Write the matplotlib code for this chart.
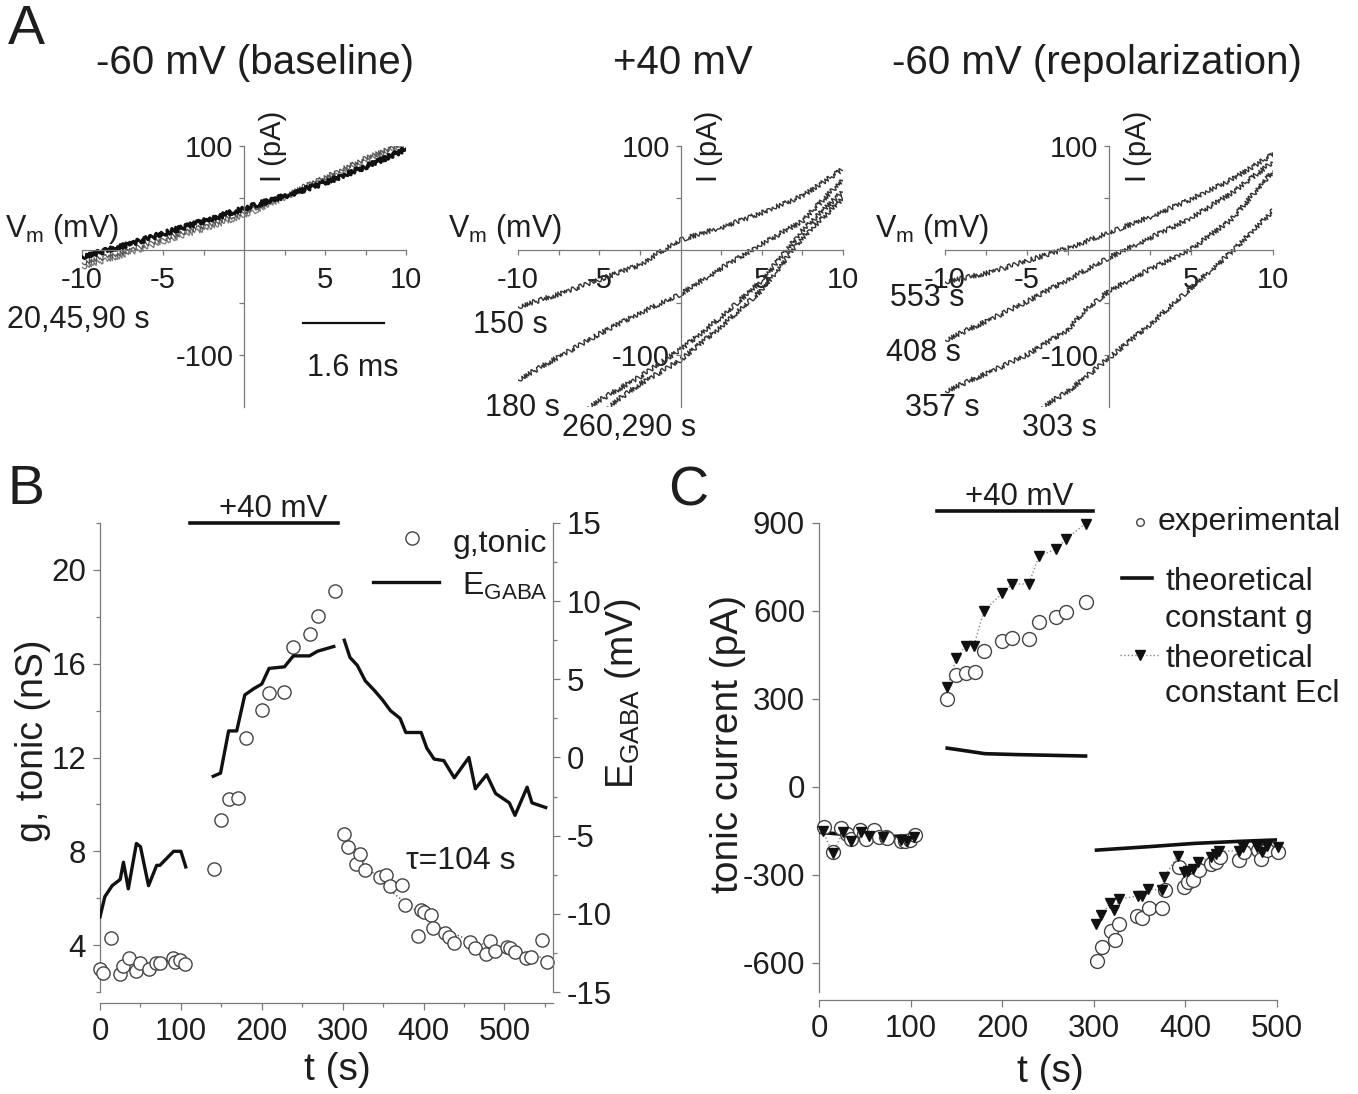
import matplotlib
matplotlib.use("Agg")
import matplotlib.pyplot as plt
from matplotlib.lines import Line2D
from matplotlib.ticker import FixedLocator, MultipleLocator

plt.rcParams['font.family'] = ['Liberation Sans', 'DejaVu Sans']
plt.rcParams['mathtext.fontset'] = 'custom'
plt.rcParams['mathtext.rm'] = 'Liberation Sans'
plt.rcParams['axes.unicode_minus'] = False

# ---- panel A: I-V ramps (mV, pA) ----
v_base = [-10, -7.5, -5, -2.5, 0, 2.5, 5, 7.5, 10]
i_20s = [-6, 4, 16, 28, 40, 52, 65, 80, 97]
i_45s = [-16, -5, 8, 20, 33, 50, 68, 86, 102]
i_90s = [-12, -2, 11, 23, 36, 53, 70, 88, 104]

v_150 = [-10, -7.5, -5, -2.5, -1.3, 0, 2.5, 5, 7.5, 10]
i_150 = [-54, -42, -28, -14, -2, 10, 22, 36, 52, 78]
v_180 = [-10, -7.5, -5, -2.5, 0, 2.5, 5, 7.5, 10]
i_180 = [-124, -102, -80, -60, -42, -17, 6, 28, 68]
v_260 = [-5.7, -2.5, 0, 2.5, 5, 7.5, 10]
i_260 = [-150, -121, -95, -64, -29, 19, 57]
v_290 = [-4.5, -2.5, 0, 2.5, 5, 7.5, 10]
i_290 = [-150, -128, -105, -73, -38, 12, 50]

v_553 = [-10, -7.5, -5, -2.5, 0, 2.5, 5, 7.5, 10]
i_553 = [-30, -22, -10, 2, 17, 32, 49, 68, 92]
v_408 = [-10, -7.5, -5, -2.5, 0, 2.5, 5, 7.5, 10]
i_408 = [-86, -68, -49, -28, -7, 12, 31, 55, 85]
v_357 = [-10, -7.5, -5, -2.5, -1.5, 0, 2.5, 5, 7.5, 10]
i_357 = [-135, -118, -100, -76, -58, -39, -18, 1, 30, 76]
v_303 = [-4.1, -2.5, 0, 2.5, 5, 7.5, 10]
i_303 = [-150, -135, -103, -71, -36, -1, 38]

# ---- panel B ----
t_g = [0, 4, 14, 25, 29, 36, 45, 50, 60, 69, 74, 90, 93, 99, 105,
       141, 149, 160, 170, 180, 200, 209, 228, 239, 259, 270, 290,
       302, 307, 317, 321, 328, 346, 353, 358, 373, 377, 393, 397, 401,
       409, 412, 427, 431, 438, 457, 463, 477, 482, 488, 503, 507, 513,
       527, 533, 547, 553]
g_tonic = [3.0, 2.82, 4.31, 2.75, 3.12, 3.43, 2.91, 3.22, 3.0, 3.22, 3.22,
           3.43, 3.29, 3.36, 3.18,
           7.26, 9.35, 10.23, 10.27, 12.82, 14.02, 14.73, 14.8, 16.71, 17.28,
           18.02, 19.09,
           8.72, 8.18, 7.45, 7.9, 7.19, 6.91, 6.98, 6.51, 6.55, 5.7, 4.38,
           5.49, 5.42, 5.28, 4.71, 4.5, 4.35, 4.1, 4.14, 3.86, 3.62, 4.18,
           3.76, 3.9, 3.86, 3.72, 3.43, 3.5, 4.21, 3.26]
t_fit = [302, 316, 337, 363, 397, 425, 458, 491, 553]
g_fit = [8.75, 8.05, 7.1, 6.2, 5.3, 4.65, 4.2, 3.86, 3.43]

t_e1 = [0, 6, 15, 25, 29, 35, 45, 50, 60, 70, 74, 91, 100, 106]
e_gaba1 = [-10.2, -8.9, -8.2, -7.8, -6.7, -8.4, -5.5, -5.7, -8.2, -6.9,
           -6.9, -6.0, -6.0, -7.0]
t_e2 = [140, 149, 159, 169, 179, 190, 200, 209, 228, 239, 259, 269, 289]
e_gaba2 = [-1.2, -1.0, 1.7, 1.7, 4.0, 4.4, 4.7, 5.7, 5.8, 6.5, 6.5, 6.8, 7.1]
t_e3 = [302, 309, 318, 328, 339, 349, 359, 371, 378, 397, 404, 413, 425,
        438, 456, 464, 478, 489, 506, 513, 528, 534, 551]
e_gaba3 = [7.5, 6.4, 5.9, 4.9, 4.3, 3.7, 3.0, 2.5, 1.6, 1.6, 0.6, -0.1,
           -0.2, -1.3, 0.0, -2.0, -1.1, -2.3, -2.9, -3.7, -1.9, -2.9, -3.2]
stim_b = [111, 294]

# ---- panel C ----
t_exp = [5, 15, 24, 31, 35, 45, 49, 51, 60, 65, 73, 74, 89, 94, 99, 105,
         140, 150, 160, 170, 180, 200, 211, 229, 240, 259, 270, 291,
         303, 309, 319, 323, 328, 347, 353, 360, 374, 378, 393, 398, 403,
         408, 415, 428, 433, 438, 458, 464, 479, 483, 489, 501]
i_exp = [-136, -224, -140, -161, -178, -149, -161, -178, -147, -170, -172,
         -176, -186, -186, -181, -163,
         298, 381, 389, 392, 463, 497, 506, 504, 561, 581, 598, 630,
         -594, -546, -492, -524, -469, -440, -446, -412, -412, -352, -273,
         -341, -326, -318, -284, -264, -258, -241, -250, -224, -216, -246,
         -216, -224]

t_ecl1 = [4, 15, 26, 35, 46, 55, 70, 89, 96, 104]
i_ecl1 = [-150, -227, -155, -184, -155, -167, -170, -181, -184, -170]
t_ecl2 = [140, 150, 160, 169, 180, 200, 211, 229, 240, 259, 270, 291]
i_ecl2 = [339, 438, 481, 481, 600, 660, 692, 692, 786, 812, 846, 898]
t_ecl3 = [302, 308, 318, 322, 328, 348, 353, 359, 374, 377, 392, 398, 403,
          408, 414, 428, 433, 437, 458, 463, 478, 484, 489, 501]
i_ecl3 = [-469, -437, -398, -421, -383, -372, -372, -349, -352, -307, -235,
          -292, -286, -281, -256, -238, -229, -220, -218, -204, -204, -224,
          -201, -207]

t_g1 = [0, 45, 104]
i_g1 = [-155, -167, -170]
t_g2 = [140, 162, 181, 215, 291]
i_g2 = [132, 122, 113, 110, 105]
t_g3 = [303, 361, 410, 459, 501]
i_g3 = [-216, -204, -193, -186, -181]
stim_c = [129, 299]

W, H = 1358, 1094
fig = plt.figure(figsize=(W / 100, H / 100), dpi=100)
SP = '#7a7a7a'
TX = '#1e1e1e'


def box(x0, x1, y0, y1):
    return [x0 / W, 1 - y1 / H, (x1 - x0) / W, (y1 - y0) / H]


def ftext(x, y, s, **kw):
    kw.setdefault('color', TX)
    return fig.text(x / W, 1 - y / H, s, **kw)


def fline(xs, ys, **kw):
    fig.add_artist(Line2D([x / W for x in xs], [1 - y / H for y in ys],
                          transform=fig.transFigure, **kw))


def iv_axes(x0, x1):
    ax = fig.add_axes(box(x0, x1, 146, 407))
    ax.set_xlim(-10, 10)
    ax.set_ylim(-150, 100)
    ax.spines['left'].set_position(('data', 0))
    ax.spines['bottom'].set_position(('data', 0))
    ax.spines['top'].set_visible(False)
    ax.spines['right'].set_visible(False)
    for s in ('left', 'bottom'):
        ax.spines[s].set_color(SP)
        ax.spines[s].set_linewidth(0.9)
    ax.xaxis.set_major_locator(FixedLocator([-10, -5, 5, 10]))
    ax.xaxis.set_minor_locator(FixedLocator([-7.5, -2.5, 2.5, 7.5]))
    ax.yaxis.set_major_locator(FixedLocator([-100, 100]))
    ax.yaxis.set_minor_locator(FixedLocator([-50, 50]))
    ax.tick_params(which='both', direction='out', color=SP, width=0.9,
                   labelcolor=TX, labelsize=21)
    ax.tick_params(axis='x', which='major', length=3.6, pad=7.5)
    ax.tick_params(axis='y', which='major', length=3.6, pad=4)
    ax.tick_params(which='minor', length=3.6)
    ax.patch.set_visible(False)
    return ax


def noisy(ax, v, i, **kw):
    ln, = ax.plot(v, i, **kw)
    ln.set_sketch_params(scale=2.4, length=2.5, randomness=4)
    return ln


# ---------------- A ----------------
ax1 = iv_axes(82, 406)
noisy(ax1, v_base, i_45s, color='#777777', lw=0.9)
noisy(ax1, v_base, i_90s, color='#555555', lw=0.9)
noisy(ax1, v_base, i_20s, color='#111111', lw=2.2)

ax2 = iv_axes(518, 843)
for v, i in [(v_150, i_150), (v_180, i_180), (v_260, i_260), (v_290, i_290)]:
    noisy(ax2, v, i, color='#333333', lw=1.0)

ax3 = iv_axes(945, 1273)
for v, i in [(v_553, i_553), (v_408, i_408), (v_357, i_357), (v_303, i_303)]:
    noisy(ax3, v, i, color='#333333', lw=1.0)

ftext(8, 30, 'A', fontsize=40, ha='left', va='center')
ftext(255, 63, '-60 mV (baseline)', fontsize=29, ha='center', va='center')
ftext(683, 63, '+40 mV', fontsize=29, ha='center', va='center')
ftext(1097, 63, '-60 mV (repolarization)', fontsize=29, ha='center', va='center')

for xv, xa in [(5, 244), (448, 680), (875, 1109)]:
    ftext(xv, 229, r'V$_{\rm m}$ (mV)', fontsize=22, ha='left', va='center')
    ftext(xa + 29, 146, 'I (pA)', fontsize=21, rotation=90, ha='center', va='center')

ftext(7, 320, '20,45,90 s', fontsize=22, ha='left', va='center')
fline([303, 384], [323, 323], color='#111111', lw=1.6)
ftext(353, 368, '1.6 ms', fontsize=22, ha='center', va='center')
ftext(473, 325, '150 s', fontsize=22, ha='left', va='center')
ftext(485, 408, '180 s', fontsize=22, ha='left', va='center')
ftext(562, 428, '260,290 s', fontsize=22, ha='left', va='center')
ftext(890, 298, '553 s', fontsize=22, ha='left', va='center')
ftext(886, 353, '408 s', fontsize=22, ha='left', va='center')
ftext(905, 408, '357 s', fontsize=22, ha='left', va='center')
ftext(1022, 428, '303 s', fontsize=22, ha='left', va='center')

# ---------------- B ----------------
axb = fig.add_axes(box(100, 553, 523, 992))
axb2 = axb.twinx()
axb.set_xlim(0, 560)
axb.set_ylim(2, 22)
axb2.set_ylim(-15, 15)
axb.spines['top'].set_visible(False)
axb.spines['right'].set_visible(False)
axb.spines['bottom'].set_position(('outward', 8))
for s in ('top', 'bottom', 'left'):
    axb2.spines[s].set_visible(False)
for sp in list(axb.spines.values()) + list(axb2.spines.values()):
    sp.set_color(SP)
    sp.set_linewidth(0.9)
axb.xaxis.set_major_locator(MultipleLocator(100))
axb.xaxis.set_minor_locator(FixedLocator([50, 150, 250, 350, 450, 550]))
axb.yaxis.set_major_locator(FixedLocator([4, 8, 12, 16, 20]))
axb.yaxis.set_minor_locator(FixedLocator([2, 6, 10, 14, 18, 22]))
axb2.yaxis.set_major_locator(MultipleLocator(5))
axb2.yaxis.set_minor_locator(FixedLocator([-12.5, -7.5, -2.5, 2.5, 7.5, 12.5]))
for a in (axb, axb2):
    a.tick_params(which='both', direction='out', color=SP, width=0.9,
                  labelcolor=TX, labelsize=22.5)
    a.tick_params(which='major', length=5, pad=5)
    a.tick_params(which='minor', length=3)

axb.plot(t_g, g_tonic, 'o', mfc='white', mec='#444444', mew=1.0, ms=9.5,
         clip_on=False, zorder=3)
axb.plot(t_fit, g_fit, ':', color='#555555', lw=1.0, zorder=2)
for t, e in [(t_e1, e_gaba1), (t_e2, e_gaba2), (t_e3, e_gaba3)]:
    axb2.plot(t, e, color='#111111', lw=2.4)

axb.plot(stim_b, [22, 22], color='#111111', lw=2.6, clip_on=False)
axb.annotate('+40 mV', xy=(sum(stim_b) / 2 + 11, 22), xytext=(0, 4),
             textcoords='offset points', ha='center', va='baseline',
             fontsize=22.5, color=TX, annotation_clip=False)
axb.text(378, 7.6, '\u03c4=104 s', fontsize=23, color=TX, va='center')

fline([412], [538], marker='o', mfc='white', mec='#444444', mew=1.0, ms=9.5, ls='none')
ftext(453, 552, 'g,tonic', fontsize=23, ha='left', va='baseline')
fline([373, 439], [582, 582], color='#111111', lw=2.4)
ftext(462, 595, r'E$_{\rm GABA}$', fontsize=23, ha='left', va='baseline')

ftext(8, 490, 'B', fontsize=40, ha='left', va='center')
ftext(33, 741, 'g, tonic (nS)', fontsize=27, rotation=90, ha='center', va='center')
ftext(623, 694, r'E$_{\rm GABA}$ (mV)', fontsize=27, rotation=90, ha='center', va='center')
ftext(337, 1070, 't (s)', fontsize=28, ha='center', va='center')

# ---------------- C ----------------
axc = fig.add_axes(box(819, 1277, 523, 992))
axc.set_xlim(0, 500)
axc.set_ylim(-700, 900)
axc.spines['top'].set_visible(False)
axc.spines['right'].set_visible(False)
axc.spines['bottom'].set_position(('outward', 6))
for sp in axc.spines.values():
    sp.set_color(SP)
    sp.set_linewidth(0.9)
axc.xaxis.set_major_locator(MultipleLocator(100))
axc.yaxis.set_major_locator(FixedLocator([-600, -300, 0, 300, 600, 900]))
axc.tick_params(which='both', direction='out', color=SP, width=0.9,
                labelcolor=TX, labelsize=22.5)
axc.tick_params(which='major', length=5, pad=5)

for t, i in [(t_ecl1, i_ecl1), (t_ecl2, i_ecl2), (t_ecl3, i_ecl3)]:
    axc.plot(t, i, ':', color='#888888', lw=1.0, zorder=2)
for t, i in [(t_g1, i_g1), (t_g2, i_g2), (t_g3, i_g3)]:
    axc.plot(t, i, color='#111111', lw=2.6, zorder=3)
axc.plot(t_exp, i_exp, 'o', mfc='white', mec='#444444', mew=1.0, ms=10,
         clip_on=False, zorder=4)
for t, i in [(t_ecl1, i_ecl1), (t_ecl2, i_ecl2), (t_ecl3, i_ecl3)]:
    axc.plot(t, i, 'v', color='#111111', ms=6.5, clip_on=False, zorder=5)

axc.plot(stim_c, [941, 941], color='#111111', lw=2.6, clip_on=False)
axc.annotate('+40 mV', xy=(sum(stim_c) / 2 + 5, 941), xytext=(0, 4),
             textcoords='offset points', ha='center', va='baseline',
             fontsize=22.5, color=TX, annotation_clip=False)

fline([1140], [522], marker='o', mfc='white', mec='#444444', mew=1.0, ms=5.5, ls='none')
ftext(1158, 530, 'experimental', fontsize=23, ha='left', va='baseline')
fline([1122, 1152], [578, 578], color='#111111', lw=2.6)
ftext(1165, 590, 'theoretical', fontsize=23, ha='left', va='baseline')
ftext(1165, 627, 'constant g', fontsize=23, ha='left', va='baseline')
fline([1120, 1160], [655, 655], ls=':', color='#888888', lw=1.0)
fline([1140], [655], marker='v', color='#111111', ms=6.5, ls='none')
ftext(1165, 667, 'theoretical', fontsize=23, ha='left', va='baseline')
ftext(1165, 702, 'constant Ecl', fontsize=23, ha='left', va='baseline')

ftext(668, 492, 'C', fontsize=40, ha='left', va='center')
ftext(728, 744, 'tonic current (pA)', fontsize=28, rotation=90, ha='center', va='center')
ftext(1050, 1072, 't (s)', fontsize=28, ha='center', va='center')

fig.savefig('out.png', dpi=100)
